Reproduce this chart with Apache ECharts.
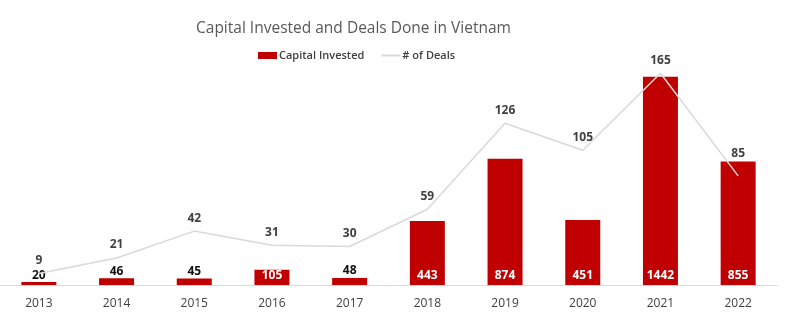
<!DOCTYPE html>
<html><head><meta charset="utf-8">
<script src="https://cdn.jsdelivr.net/npm/echarts@6/dist/echarts.min.js"></script>
<style>html,body{margin:0;padding:0;background:#fff}#c{width:800px;height:332px}</style>
</head><body><div id="c"></div>
<script>
const years = ['2013','2014','2015','2016','2017','2018','2019','2020','2021','2022'];
const capitalInvested = [20, 46, 45, 105, 48, 443, 874, 451, 1442, 855];
const dealsDone = [9, 21, 42, 31, 30, 59, 126, 105, 165, 85];

const FONT = '"Open Sans", "Liberation Sans", sans-serif';
const barData = capitalInvested.map(v => v < 100
  ? { value: v, label: { position: 'top', color: '#111', distance: 1 } }
  : { value: v, label: { position: 'insideBottom', color: '#fff', distance: 3 } });
const lineData = dealsDone.map((v, i) => i === years.length - 1
  ? { value: v, label: { offset: [0, -9] } }
  : v);

const chart = echarts.init(document.getElementById('c'), null, { renderer: 'canvas' });
chart.setOption({
  animation: false,
  backgroundColor: '#fff',
  title: {
    text: 'Capital Invested and Deals Done in Vietnam',
    left: 191, top: 16,
    textStyle: { fontFamily: FONT, fontSize: 15.5, fontWeight: 'normal', color: '#595959' }
  },
  legend: {
    top: 45, left: 253, itemGap: 16, itemWidth: 19, itemHeight: 7,
    textStyle: { fontFamily: FONT, fontSize: 11, color: '#404040', fontWeight: 600, padding: [0, 0, 0, -3] },
    data: [
      { name: 'Capital Invested', icon: 'rect' },
      { name: '# of Deals', itemStyle: { opacity: 0 } }
    ]
  },
  grid: { left: -3, right: 23, top: 54, bottom: 47, containLabel: false },
  xAxis: {
    type: 'category', data: years,
    axisLine: { lineStyle: { color: '#d9d9d9', width: 1 } },
    axisTick: { show: false },
    axisLabel: { fontFamily: FONT, fontSize: 12, color: '#404040', margin: 13 }
  },
  yAxis: [
    { type: 'value', min: 0, max: 1600, show: false, splitLine: { show: false } },
    { type: 'value', min: 0, max: 180, show: false, splitLine: { show: false } }
  ],
  series: [
    {
      name: 'Capital Invested', type: 'bar', yAxisIndex: 0, barWidth: 35,
      itemStyle: { color: '#C00000' },
      label: { show: true, fontFamily: FONT, fontSize: 12, fontWeight: 'bold' },
      data: barData
    },
    {
      name: '# of Deals', type: 'line', yAxisIndex: 1, symbol: 'circle', symbolSize: 0.01,
      showSymbol: true,
      lineStyle: { color: '#d9d9d9', width: 1.5 },
      itemStyle: { color: '#d9d9d9' },
      label: { show: true, position: 'top', distance: 7, fontFamily: FONT, fontSize: 12, fontWeight: 'bold', color: '#404040' },
      data: lineData
    }
  ]
});
</script></body></html>
